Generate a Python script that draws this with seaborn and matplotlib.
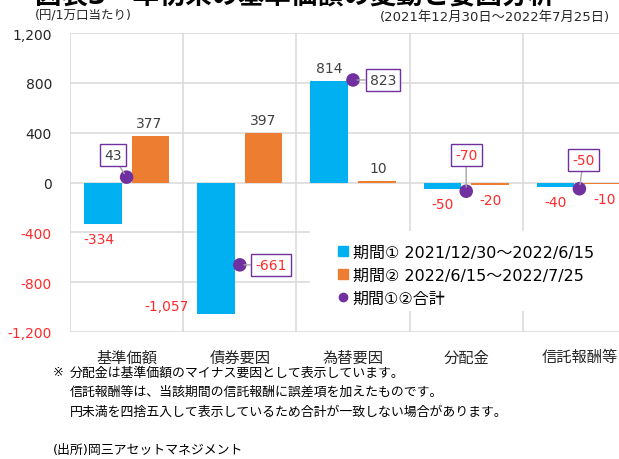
import numpy as np
import pandas as pd
import matplotlib
matplotlib.use("Agg")
import matplotlib.pyplot as plt
import seaborn as sns
from matplotlib.lines import Line2D
from matplotlib.patches import Rectangle

# ---- data ----
categories = ["基準価額", "債券要因", "為替要因", "分配金", "信託報酬等"]
period1 = [-334, -1057, 814, -50, -40]
period2 = [377, 397, 10, -20, -10]
total = [43, -661, 823, -70, -50]
period_names = ["期間① 2021/12/30～2022/6/15", "期間② 2022/6/15～2022/7/25"]
total_name = "期間①②合計"
yticks = [-1200, -800, -400, 0, 400, 800, 1200]
ytick_labels = ["-1,200", "-800", "-400", "0", "400", "800", "1,200"]
title = "図表3　年初来の基準価額の変動と要因分析"
unit_text = "(円/1万口当たり)"
period_text = "(2021年12月30日～2022年7月25日)"
notes = ["分配金は基準価額のマイナス要因として表示しています。",
         "信託報酬等は、当該期間の信託報酬に誤差項を加えたものです。",
         "円未満を四捨五入して表示しているため合計が一致しない場合があります。"]
source = "(出所)岡三アセットマネジメント"

# ---- style ----
BLUE = "#00B0F0"
ORANGE = "#ED7D31"
PURPLE = "#7030A0"
RED = "#FF2B2B"
GRAY_TXT = "#404040"
GRID = "#D9D9D9"

sns.set_theme(style="white")
plt.rcParams['font.family'] = ['DejaVu Sans', 'Noto Sans CJK JP']

df = pd.DataFrame({
    "category": categories * 2,
    "value": period1 + period2,
    "period": [period_names[0]] * len(categories) + [period_names[1]] * len(categories),
})

fig = plt.figure(figsize=(6.19, 4.6), dpi=100)
W, H = 619, 460
ax = fig.add_axes([70 / W, (H - 333) / H, (636 - 70) / W, (333 - 34) / H])

# grid
for yv in yticks:
    ax.axhline(yv, color=GRID, lw=1.1, zorder=0)
for xb in np.arange(len(categories)) - 0.5:
    ax.axvline(xb, color=GRID, lw=1.1, zorder=0)

# white legend background (covers grid behind legend)
fig.add_artist(Rectangle((310 / W, 1 - 312 / H), (W - 310) / W, 80 / H,
                         transform=fig.transFigure, facecolor="white",
                         edgecolor="none", zorder=1.5))

sns.barplot(data=df, x="category", y="value", hue="period", order=categories,
            hue_order=period_names, palette=[BLUE, ORANGE], width=0.84, gap=0.21,
            saturation=1, linewidth=0, legend=False, ax=ax, zorder=2)

xpos = np.arange(len(categories))
sns.scatterplot(x=xpos, y=total, color=PURPLE, s=95, edgecolor="none", ax=ax, zorder=4)

ax.set_xlim(-0.5, len(categories) - 0.5)
ax.set_ylim(-1200, 1200)
ax.set_yticks(yticks)
ax.set_yticklabels(ytick_labels)
for lab, v in zip(ax.get_yticklabels(), yticks):
    lab.set_color(RED if v < 0 else "#262626")
    lab.set_fontsize(10)
ax.tick_params(axis="y", length=0, pad=13)
ax.tick_params(axis="x", length=0, pad=12.5, labelsize=11, labelcolor="#262626")
ax.set_xlabel("")
ax.set_ylabel("")
for s in ax.spines.values():
    s.set_visible(False)

def fmt(v):
    return f"{v:,}"

def col(v):
    return RED if v < 0 else GRAY_TXT

# bar value labels (pixel offsets)
off1 = [(-4, -15), (-49, 8), (0, 13), (0, -15), (0, -15)]
off2 = [(-1, 13), (0, 13), (1, 13), (1, -15), (1, -15)]
for i, (v1, v2) in enumerate(zip(period1, period2)):
    ax.annotate(fmt(v1), (i - 0.21, v1), xytext=off1[i], textcoords="offset pixels",
                ha="center", va="center", fontsize=10, color=col(v1), zorder=5)
    ax.annotate(fmt(v2), (i + 0.21, v2), xytext=off2[i], textcoords="offset pixels",
                ha="center", va="center", fontsize=10, color=col(v2), zorder=5)

# total boxed labels
offt = [(-14, 22), (31, 0), (30, 0), (0, 36), (4, 29)]
for i, v in enumerate(total):
    ax.annotate(fmt(v), (i, v), xytext=offt[i], textcoords="offset pixels",
                ha="center", va="center", fontsize=10, color=col(v), zorder=6,
                bbox=dict(boxstyle="square,pad=0.3", fc="white", ec=PURPLE, lw=1.0),
                arrowprops=dict(arrowstyle="-", color="#A6A6A6", lw=1.0,
                                shrinkA=0, shrinkB=3))

# legend
handles = [
    Line2D([], [], marker="s", ls="none", color=BLUE, markersize=7),
    Line2D([], [], marker="s", ls="none", color=ORANGE, markersize=7),
    Line2D([], [], marker="o", ls="none", color=PURPLE, markersize=6),
]
leg = fig.legend(handles, period_names + [total_name], loc="upper left",
                 bbox_to_anchor=(335 / W, 1 - 246 / H), frameon=False, fontsize=11.5,
                 handletextpad=0.1, handlelength=1.0, labelspacing=0.5,
                 borderpad=0, borderaxespad=0)
leg.set_zorder(10)
for t in leg.get_texts():
    t.set_color("black")

# texts
fig.text(35 / W, 1 - 4 / H, title, fontsize=19, fontweight="bold", va="baseline",
         ha="left", color="black")
fig.text(35 / W, 1 - 15 / H, unit_text, fontsize=9, va="center", ha="left", color="#262626")
fig.text(610 / W, 1 - 17 / H, period_text, fontsize=9.5, va="center", ha="right", color="#262626")
fig.text(53 / W, 1 - 373 / H, "※", fontsize=9.3, va="center", ha="left", color="black")
for line, yp in zip(notes, [373, 392, 412]):
    fig.text(70 / W, 1 - yp / H, line, fontsize=9.3, va="center", ha="left", color="black")
fig.text(53 / W, 1 - 450 / H, source, fontsize=9.3, va="center", ha="left", color="black")

fig.savefig("out.png", dpi=100)
